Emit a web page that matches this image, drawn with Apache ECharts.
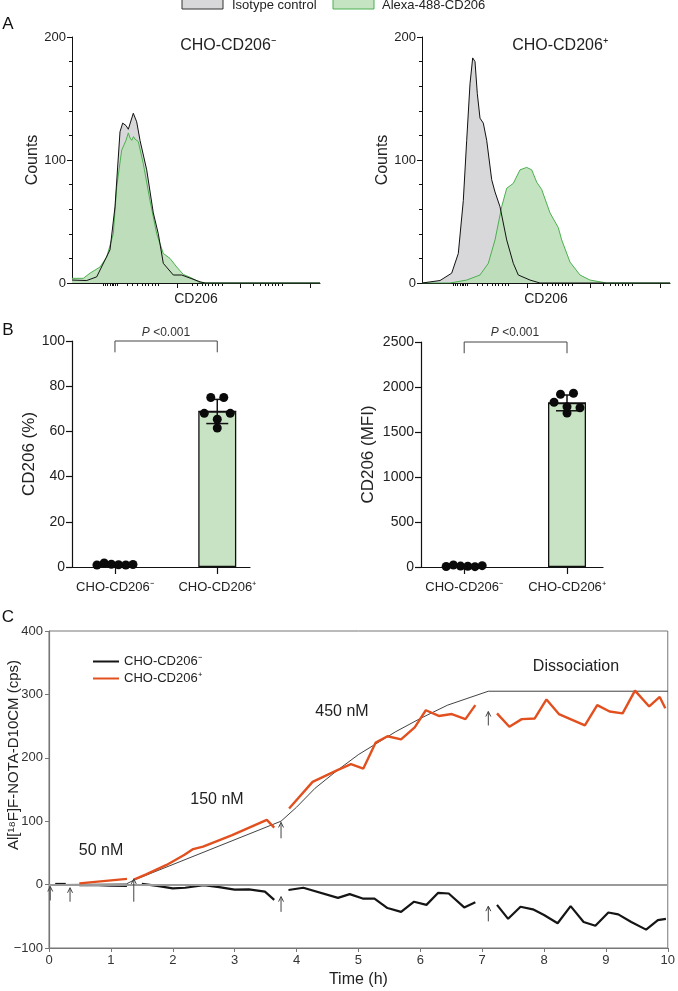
<!DOCTYPE html>
<html><head><meta charset="utf-8">
<script src="https://cdn.jsdelivr.net/npm/echarts@6/dist/echarts.min.js"></script>
<style>html,body{margin:0;padding:0;background:#fff}#c{width:678px;height:991px}</style>
</head><body><div id="c"></div>
<script>
// ---------- Panel A: flow cytometry histograms (x: fluorescence channel, y: counts) ----------
const histNegIso = [[0,2.4],[14.7,2],[24.7,5],[38,27],[43,62],[48,123],[50.7,130],[54,128],[56.3,125],[61.3,138],[64.7,131],[68,116],[74.7,92],[81.3,57],[86.3,40],[91.3,16],[101.3,6.5],[109.7,6.5],[118,4],[128,1],[133,0],[248,0]];
const histNegCD206 = [[0,3.8],[11.3,3.8],[18,8],[28,13],[34.7,21],[41.3,40],[44.7,78],[49.7,108],[54,116],[56.3,122],[58,118],[59.7,116],[61.5,119],[63,117],[64.5,118],[66.3,115],[71.3,97],[78,67],[84.7,40],[91.3,24],[98,20],[104.7,13],[111.3,7],[119.7,4],[128,0.3],[133,0],[248,0]];
const histPosIso = [[0,0],[18,2],[29.7,8],[36.3,24],[41.3,67],[44.7,116],[48,162],[50.7,183],[53,180],[55.3,154],[58,134],[61.3,130],[64.7,116],[69.7,84],[73,74],[78,62],[84.7,35],[91.3,16],[96.3,6.5],[108,2.4],[118,0],[248,0]];
const histPosCD206 = [[0,0],[28,0],[44.7,2.4],[58,6.5],[66.3,16],[73,35],[79.7,62],[84.7,77],[88,79],[91.3,81],[98,92],[104.7,94],[109.7,92],[114.7,82],[119.7,76],[128,57],[136.3,45],[139.7,35],[148,17],[158,6.5],[168,2.4],[184.7,0],[248,0]];
const histMajorTicks = [105,168,238];
const histMinorTicks = [31,33,35,38,40,41,43,45,55,60,65,70,73,76,80,83,86,120,125,130,133,136,140,143,146,150,181,188,193,196,200,203,206,210];

// ---------- Panel B: CD206 expression ----------
const groups = ['CHO-CD206\u207B','CHO-CD206\u207A'];
const pctNeg = [0.9,1.8,1.2,1.0,0.9,1.1];
const pctPos = [75,75,68,65.4,68,61.5];
const mfiNeg = [5,22,10,8,4,15];
const mfiPos = [1920,1930,1830,1780,1770,1710];

// ---------- Panel C: binding kinetics (x: time h, y: cps); null = gap ----------
const negTrace = [[0.1,1],[0.27,1],null,
  [0.49,-1],[0.8,-1],[1.0,-1.5],[1.26,-2],null,
  [1.5,1],[1.75,-2],[2.0,-6],[2.2,-5],[2.5,-1],[2.75,-4],[3.0,-8],[3.23,-7.5],[3.49,-11],[3.64,-24],null,
  [3.87,-8.5],[4.11,-5],[4.67,-21],[4.86,-15],[5.07,-22],[5.26,-22],[5.47,-37],[5.69,-43],[5.9,-27],[6.1,-32],[6.29,-13],[6.46,-14],[6.71,-36],[6.89,-28],null,
  [7.24,-32],[7.42,-54],[7.62,-35],[7.82,-39],[8.0,-48],[8.22,-61],[8.43,-34],[8.64,-59],[8.83,-65],[9.04,-44],[9.2,-47],[9.41,-59],[9.65,-71],[9.84,-56],[9.97,-54]];
const posTrace = [[0.49,2],[1.26,9],null,
  [1.37,8],[1.57,16],[1.9,31],[2.19,47],[2.33,56],[2.49,60],[2.96,78],[3.52,102],[3.64,90],null,
  [3.88,120],[4.26,162],[4.67,181],[4.88,190],[5.08,183],[5.28,224],[5.47,234],[5.69,229],[5.91,248],[6.09,275],[6.3,266],[6.51,269],[6.73,261],[6.89,283],null,
  [7.24,270],[7.44,249],[7.64,261],[7.85,262],[8.04,292],[8.24,269],[8.66,251],[8.86,283],[9.06,273],[9.27,270],[9.47,306],[9.7,281],[9.87,296],[9.96,278]];
const fitCurve = [[0,0],[1.25,1],[1.37,7],[3.75,100],[4.0,122],[4.3,152],[4.67,181],[5.0,205],[5.6,241],[6.0,262],[6.44,283],[7.1,305],[10,305]];
const injectionArrows = [[0.02,-25,-3],[0.34,-27,-5],[1.37,-27,9],[3.75,73,98],[3.75,-43,-19],[7.1,251,273],[7.1,-58,-34]];
const stageLabels = ['50 nM','150 nM','450 nM','Dissociation'];

// ---------------------------------------------------------------------------
const FF = 'Liberation Sans, Arial, Helvetica, sans-serif';
const TXT = '#222';

function segments(arr){
  const out=[]; let cur=[];
  arr.forEach(p=>{ if(p===null){ if(cur.length) out.push(cur); cur=[]; } else cur.push(p); });
  if(cur.length) out.push(cur);
  return out;
}
function mean(a){ return a.reduce((s,v)=>s+v,0)/a.length; }
function sd(a){ const m=mean(a); return Math.sqrt(a.reduce((s,v)=>s+(v-m)*(v-m),0)/(a.length-1)); }

// simple beeswarm: rows of overlapping points, spread horizontally
function swarm(groupIdx, vals, pxPerUnit, size){
  const idx = vals.map((v,i)=>i).sort((a,b)=>vals[b]-vals[a]);
  const rows=[]; let row=null;
  idx.forEach(i=>{
    if(row && (vals[row[0]]-vals[i])*pxPerUnit < size) row.push(i);
    else { row=[i]; rows.push(row); }
  });
  const items=[];
  rows.forEach(r=>{
    r.sort((a,b)=>a-b);
    const n=r.length, step = n<=3 ? 13 : Math.min(13, 36/(n-1));
    r.forEach((i,k)=>{
      items.push({value:[groupIdx, vals[i]], symbolOffset:[(k-(n-1)/2)*step, 0]});
    });
  });
  return items;
}

const series = [];

// Panel A
function addHist(xi, yi, iso, cd){
  series.push({name:'Isotype control', type:'line', xAxisIndex:xi, yAxisIndex:yi, data:iso, symbol:'none',
    lineStyle:{width:0}, areaStyle:{color:'#d8d8da', opacity:1}, z:2, silent:true});
  series.push({name:'Alexa-488-CD206', type:'line', xAxisIndex:xi, yAxisIndex:yi, data:cd, symbol:'none',
    lineStyle:{color:'#4caf50', width:1}, areaStyle:{color:'rgb(186,222,181)', opacity:0.85}, z:3, silent:true});
  series.push({name:'Isotype outline', type:'line', xAxisIndex:xi, yAxisIndex:yi, data:iso, symbol:'none',
    lineStyle:{color:'#111', width:1}, z:4, silent:true});
}
addHist(0,0,histNegIso,histNegCD206);
addHist(2,1,histPosIso,histPosCD206);

// Panel B
function addBars(xi, yi, neg, pos, pxPerUnit, top, legLen){
  const means=[mean(neg),mean(pos)], sds=[sd(neg),sd(pos)];
  series.push({type:'bar', xAxisIndex:xi, yAxisIndex:yi, barWidth:38,
    data:[[0,means[0]],[1,means[1]]],
    itemStyle:{color:'#c8e3c3', borderColor:'#111', borderWidth:1.3}, z:2, silent:true});
  series.push({type:'custom', xAxisIndex:xi, yAxisIndex:yi, z:4, silent:true,
    data:[[0,means[0],sds[0]],[1,means[1],sds[1]]], encode:{x:0,y:1},
    renderItem:function(p, api){
      const x=api.value(0), m=api.value(1), s=api.value(2);
      const t=api.coord([x,m+s]), b=api.coord([x,m-s]), c=api.coord([x,m]);
      const st={stroke:'#111', lineWidth:1.5};
      return {type:'group', children:[
        {type:'line', shape:{x1:t[0],y1:t[1],x2:b[0],y2:b[1]}, style:st},
        {type:'line', shape:{x1:t[0]-9,y1:t[1],x2:t[0]+9,y2:t[1]}, style:st},
        {type:'line', shape:{x1:b[0]-11,y1:b[1],x2:b[0]+11,y2:b[1]}, style:st},
        {type:'line', shape:{x1:c[0]-19,y1:c[1],x2:c[0]+19,y2:c[1]}, style:{stroke:'#111', lineWidth:1.3}}
      ]};
    }});
  series.push({type:'scatter', xAxisIndex:xi, yAxisIndex:yi, symbolSize:9, z:5, silent:true,
    itemStyle:{color:'#0a0a0a', opacity:1},
    data: swarm(0,neg,pxPerUnit,9).concat(swarm(1,pos,pxPerUnit,9))});
  series.push({type:'line', xAxisIndex:xi, yAxisIndex:yi, symbol:'none', clip:false, silent:true,
    lineStyle:{color:'#444', width:1},
    data:[[0,top-legLen],[0,top],[1,top],[1,top-legLen]]});
}
addBars(4,2,pctNeg,pctPos,226/100,100,5);
addBars(5,3,mfiNeg,mfiPos,225/2500,2500,125);

// Panel C
series.push({name:'fit', type:'line', xAxisIndex:6, yAxisIndex:4, data:fitCurve, symbol:'none', silent:true,
  lineStyle:{color:'#111', width:0.8}, z:3,
  markLine:{silent:true, symbol:['none','none'], label:{show:false},
    lineStyle:{color:'#9a9a9a', width:2, type:'solid'}, data:[{yAxis:0}]}});
segments(negTrace).forEach(seg=>series.push({name:groups[0], type:'line', xAxisIndex:6, yAxisIndex:4,
  data:seg, symbol:'none', silent:true, lineStyle:{color:'#151515', width:2.2}, itemStyle:{color:'#151515'}, z:4}));
segments(posTrace).forEach(seg=>series.push({name:groups[1], type:'line', xAxisIndex:6, yAxisIndex:4,
  data:seg, symbol:'none', silent:true, lineStyle:{color:'#e2501f', width:2.4}, itemStyle:{color:'#e2501f'}, z:5}));
series.push({type:'custom', xAxisIndex:6, yAxisIndex:4, z:6, silent:true, data:injectionArrows, encode:{x:0,y:[1,2]},
  renderItem:function(p, api){
    const a=api.coord([api.value(0),api.value(1)]), b=api.coord([api.value(0),api.value(2)]);
    const st={stroke:'#444', lineWidth:1, fill:'none'};
    return {type:'group', children:[
      {type:'line', shape:{x1:a[0],y1:a[1],x2:b[0],y2:b[1]}, style:st},
      {type:'polyline', shape:{points:[[b[0]-2.5,b[1]+5],[b[0],b[1]],[b[0]+2.5,b[1]+5]]}, style:st}
    ]};
  }});

// axes
const plain = v => String(v).replace('-','\u2212');
function histX(gi, ticks, len, line){
  return {gridIndex:gi, type:'value', min:0, max:248, position:'bottom',
    axisLine:{show:line, onZero:false, lineStyle:{color:'#111', width:1}},
    axisTick:{show:true, customValues:ticks, length:len, lineStyle:{color:'#111'}},
    axisLabel:{show:false}, splitLine:{show:false},
    name: line ? 'CD206' : '', nameLocation:'middle', nameGap:9,
    nameTextStyle:{fontSize:14, color:TXT, fontFamily:FF}};
}
function histY(gi){
  return {gridIndex:gi, type:'value', min:0, max:200, interval:100,
    axisLine:{show:true, onZero:false, lineStyle:{color:'#111', width:1}},
    axisTick:{show:true, length:5, lineStyle:{color:'#111'}},
    minorTick:{show:true, splitNumber:5, length:3, lineStyle:{color:'#111'}},
    axisLabel:{fontSize:13, color:TXT, fontFamily:FF, margin:6, formatter:plain},
    splitLine:{show:false},
    name:'Counts', nameLocation:'middle', nameGap:27, nameTextStyle:{fontSize:16, color:TXT, fontFamily:FF}};
}
function barX(gi, max){
  return {gridIndex:gi, type:'value', min:-0.42, max:max,
    axisLine:{show:true, onZero:false, lineStyle:{color:'#111', width:1.2}},
    axisTick:{show:true, customValues:[0,1], length:7, lineStyle:{color:'#111', width:1.2}},
    axisLabel:{show:true, customValues:[0,1], formatter:v=>groups[Math.round(v)], fontSize:13, color:TXT, fontFamily:FF, margin:14},
    splitLine:{show:false}};
}
function barY(gi, max, interval, name, gap){
  return {gridIndex:gi, type:'value', min:0, max:max, interval:interval,
    axisLine:{show:true, onZero:false, lineStyle:{color:'#111', width:1.2}},
    axisTick:{show:true, length:6, lineStyle:{color:'#111', width:1.2}},
    axisLabel:{fontSize:14, color:TXT, fontFamily:FF, margin:7, formatter:plain},
    splitLine:{show:false},
    name:name, nameLocation:'middle', nameGap:gap, nameTextStyle:{fontSize:17, color:TXT, fontFamily:FF}};
}

const option = {
  animation:false,
  backgroundColor:'#fff',
  textStyle:{fontFamily:FF},
  grid:[
    {left:72, top:37, width:248, height:246},
    {left:422, top:37, width:248, height:246},
    {left:72, top:341, width:178, height:226},
    {left:421, top:342, width:182, height:225},
    {left:49, top:631, width:623, height:317, show:true, borderColor:'#777', borderWidth:1, backgroundColor:'transparent'}
  ],
  xAxis:[
    histX(0, histMajorTicks, 5, true),
    histX(0, histMinorTicks, 3, false),
    histX(1, histMajorTicks, 5, true),
    histX(1, histMinorTicks, 3, false),
    barX(2, 1.32),
    barX(3, 1.35),
    {gridIndex:4, type:'value', min:0, max:10, interval:1,
      axisLine:{show:true, onZero:false, lineStyle:{color:'#777', width:1.2}},
      axisTick:{show:true, length:4, lineStyle:{color:'#777'}},
      axisLabel:{fontSize:13, color:'#333', fontFamily:FF, margin:6},
      splitLine:{show:false},
      name:'Time (h)', nameLocation:'middle', nameGap:24, nameTextStyle:{fontSize:16, color:TXT, fontFamily:FF}}
  ],
  yAxis:[
    histY(0), histY(1),
    barY(2, 100, 20, 'CD206 (%)', 30),
    barY(3, 2500, 500, 'CD206 (MFI)', 44),
    {gridIndex:4, type:'value', min:-100, max:400, interval:100,
      axisLine:{show:true, onZero:false, lineStyle:{color:'#777', width:1.2}},
      axisTick:{show:true, length:4, lineStyle:{color:'#777'}},
      axisLabel:{fontSize:13, color:'#333', fontFamily:FF, margin:6, formatter:plain},
      splitLine:{show:false}}
  ],
  legend:[{
    data:[{name:groups[0], itemStyle:{opacity:0}},{name:groups[1], itemStyle:{opacity:0}}],
    orient:'vertical', left:87, top:650,
    itemWidth:26, itemHeight:14, itemGap:4, selectedMode:false,
    textStyle:{fontSize:13, color:TXT, fontFamily:FF}
  }],
  series:series,
  graphic:[
    // legend for panel A
    {type:'rect', shape:{x:182, y:-1, width:41, height:10}, style:{fill:'#d8d8da', stroke:'#333', lineWidth:1}},
    {type:'text', x:232, y:5, style:{text:'Isotype control', fontSize:13, fontFamily:FF, fill:TXT, verticalAlign:'middle'}},
    {type:'rect', shape:{x:333, y:-1, width:41, height:10}, style:{fill:'#c5e4c1', stroke:'#4caf50', lineWidth:1}},
    {type:'text', x:382, y:5, style:{text:'Alexa-488-CD206', fontSize:13, fontFamily:FF, fill:TXT, verticalAlign:'middle'}},
    // panel letters
    {type:'text', x:8, y:24, style:{text:'A', fontSize:17, fontFamily:FF, fill:'#111', align:'center', verticalAlign:'middle'}},
    {type:'text', x:8, y:330, style:{text:'B', fontSize:17, fontFamily:FF, fill:'#111', align:'center', verticalAlign:'middle'}},
    {type:'text', x:8, y:617, style:{text:'C', fontSize:17, fontFamily:FF, fill:'#111', align:'center', verticalAlign:'middle'}},
    // panel A titles
    {type:'text', x:228, y:46, style:{text:groups[0], fontSize:16, fontFamily:FF, fill:TXT, align:'center', verticalAlign:'middle'}},
    {type:'text', x:560, y:46, style:{text:groups[1], fontSize:16, fontFamily:FF, fill:TXT, align:'center', verticalAlign:'middle'}},
    // P values
    {type:'text', x:166, y:333, style:{text:'{i|P} <0.001', rich:{i:{fontStyle:'italic', fontSize:12, fontFamily:FF, fill:'#333'}}, fontSize:12, fontFamily:FF, fill:'#333', align:'center', verticalAlign:'middle'}},
    {type:'text', x:515, y:333, style:{text:'{i|P} <0.001', rich:{i:{fontStyle:'italic', fontSize:12, fontFamily:FF, fill:'#333'}}, fontSize:12, fontFamily:FF, fill:'#333', align:'center', verticalAlign:'middle'}},
    // panel C annotations
    {type:'text', x:101, y:851, style:{text:stageLabels[0], fontSize:16, fontFamily:FF, fill:TXT, align:'center', verticalAlign:'middle'}},
    {type:'text', x:217, y:800, style:{text:stageLabels[1], fontSize:16, fontFamily:FF, fill:TXT, align:'center', verticalAlign:'middle'}},
    {type:'text', x:342, y:712, style:{text:stageLabels[2], fontSize:16, fontFamily:FF, fill:TXT, align:'center', verticalAlign:'middle'}},
    {type:'text', x:576, y:667, style:{text:stageLabels[3], fontSize:16, fontFamily:FF, fill:TXT, align:'center', verticalAlign:'middle'}},
    {type:'text', x:14, y:755, rotation:Math.PI/2, style:{text:'Al[\u00B9\u2078F]F-NOTA-D10CM (cps)', fontSize:15, fontFamily:FF, fill:TXT, align:'center', verticalAlign:'middle'}}
  ]
};
const chart = echarts.init(document.getElementById('c'), null, {renderer:'canvas'});
chart.setOption(option);
</script>
</body></html>
